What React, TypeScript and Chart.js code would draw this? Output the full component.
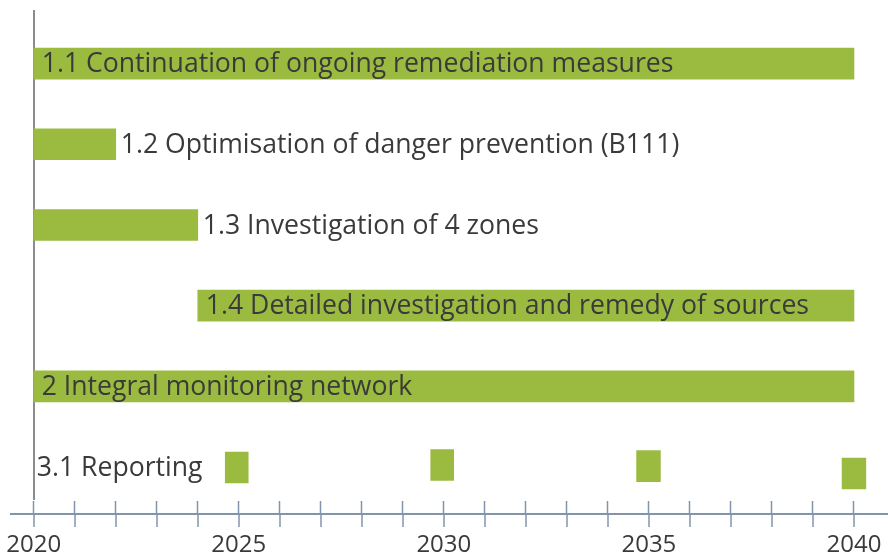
import React, { useEffect, useRef } from 'react';
import { Chart, registerables } from 'chart.js';

Chart.register(...registerables);

// ---- data ----
const taskLabels = [
  '1.1 Continuation of ongoing remediation measures',
  '1.2 Optimisation of danger prevention (B111)',
  '1.3 Investigation of 4 zones',
  '1.4 Detailed investigation and remedy of sources',
  '2 Integral monitoring network',
];
const taskStart = [2020, 2020, 2020, 2024, 2020];
const taskEnd = [2040, 2022, 2024, 2040, 2040];
const taskRow = [1, 2, 3, 4, 5];
const labelInside = [true, false, false, true, true];

const reportingLabel = '3.1 Reporting';
const reportingLabelYear = 2020;
const reportingLabelRow = 6.01;
const reportingRow = [6.006, 5.975, 5.988, 6.08];
const reportingStart = [2024.67, 2029.68, 2034.7, 2039.71];
const reportingEnd = [2025.23, 2030.24, 2035.28, 2040.29];

const labelledYears = [2020, 2025, 2030, 2035, 2040];
const xMin = 2019.44;
const xMax = 2040.83;
const yMin = 0.336;
const yMax = 6.421;

// ---- styles ----
const FONT = '"Open Sans", "DejaVu Sans", sans-serif';
const TEXT = '#3a3a3a';
const GREEN = '#9bbb40';
const AXIS = '#8294ab';
const VLINE = '#8c8c8c';

const barLabelPlugin = {
  id: 'barLabels',
  afterDatasetsDraw(chart: any) {
    const ctx = chart.ctx;
    ctx.save();
    ctx.font = `26.6px ${FONT}`;
    ctx.fillStyle = TEXT;
    ctx.textBaseline = 'middle';
    ctx.textAlign = 'left';
    const meta = chart.getDatasetMeta(0);
    meta.data.forEach((el: any, i: number) => {
      const { x, y, base } = el.getProps(['x', 'y', 'base'], true);
      const left = Math.min(x, base);
      const right = Math.max(x, base);
      const tx = labelInside[i] ? left + 8 : right + 5;
      ctx.fillText(taskLabels[i], tx, y + 1);
    });
    const xs = chart.scales.x;
    const ys = chart.scales.y;
    ctx.fillText(
      reportingLabel,
      xs.getPixelForValue(reportingLabelYear) + 3,
      ys.getPixelForValue(reportingLabelRow) + 1
    );
    ctx.restore();
  },
};

const xCommon = {
  type: 'linear' as const,
  min: xMin,
  max: xMax,
  offset: false,
};

export default function App() {
  const ref = useRef<HTMLCanvasElement | null>(null);

  useEffect(() => {
    if (!ref.current) return;
    const chart = new Chart(ref.current, {
      type: 'bar',
      data: {
        datasets: [
          {
            label: 'Tasks',
            data: taskLabels.map((_, i) => ({ y: taskRow[i], x: [taskStart[i], taskEnd[i]] })) as any,
            backgroundColor: GREEN,
            borderWidth: 0,
            barThickness: 31,
            grouped: false,
            xAxisID: 'x',
            yAxisID: 'y',
          },
          {
            label: 'Reporting',
            data: reportingStart.map((s, i) => ({ y: reportingRow[i], x: [s, reportingEnd[i]] })) as any,
            backgroundColor: GREEN,
            borderWidth: 0,
            barThickness: 31,
            grouped: false,
            xAxisID: 'x',
            yAxisID: 'y',
          },
        ],
      },
      options: {
        indexAxis: 'y',
        responsive: false,
        animation: false,
        layout: { padding: { top: 10, left: 8, right: 0, bottom: 0 } },
        plugins: {
          legend: { display: false },
          tooltip: { enabled: false },
        },
        scales: {
          y: {
            type: 'linear',
            min: yMin,
            max: yMax,
            reverse: true,
            offset: false,
            display: false,
          },
          xA: {
            ...xCommon,
            position: 'bottom',
            weight: 0,
            border: { display: false },
            grid: {
              drawOnChartArea: false,
              drawTicks: true,
              tickLength: 13,
              color: AXIS,
              tickColor: AXIS,
              tickWidth: 1.5,
            },
            ticks: { display: false, stepSize: 1, includeBounds: false, autoSkip: false },
          },
          x: {
            ...xCommon,
            position: 'bottom',
            weight: 1,
            border: { display: true, color: AXIS, width: 2 },
            grid: {
              drawOnChartArea: true,
              drawTicks: true,
              tickLength: 13,
              color: (c: any) => (c.tick && c.tick.value === 2020 ? VLINE : 'rgba(0,0,0,0)'),
              lineWidth: 2,
              tickColor: AXIS,
              tickWidth: 1.5,
            },
            ticks: {
              stepSize: 1,
              includeBounds: false,
              autoSkip: false,
              maxRotation: 0,
              padding: 6,
              color: TEXT,
              font: { family: FONT, size: 24, lineHeight: 1 },
              callback: (v: any) => (labelledYears.includes(Number(v)) ? String(v) : ''),
            },
          },
        } as any,
      },
      plugins: [barLabelPlugin],
    });
    return () => chart.destroy();
  }, []);

  return (
    <div style={{ position: 'fixed', left: 0, top: 0, width: 888, height: 557, overflow: 'hidden', background: '#fff' }}>
      <canvas ref={ref} width={888} height={563} style={{ display: 'block' }} />
    </div>
  );
}
